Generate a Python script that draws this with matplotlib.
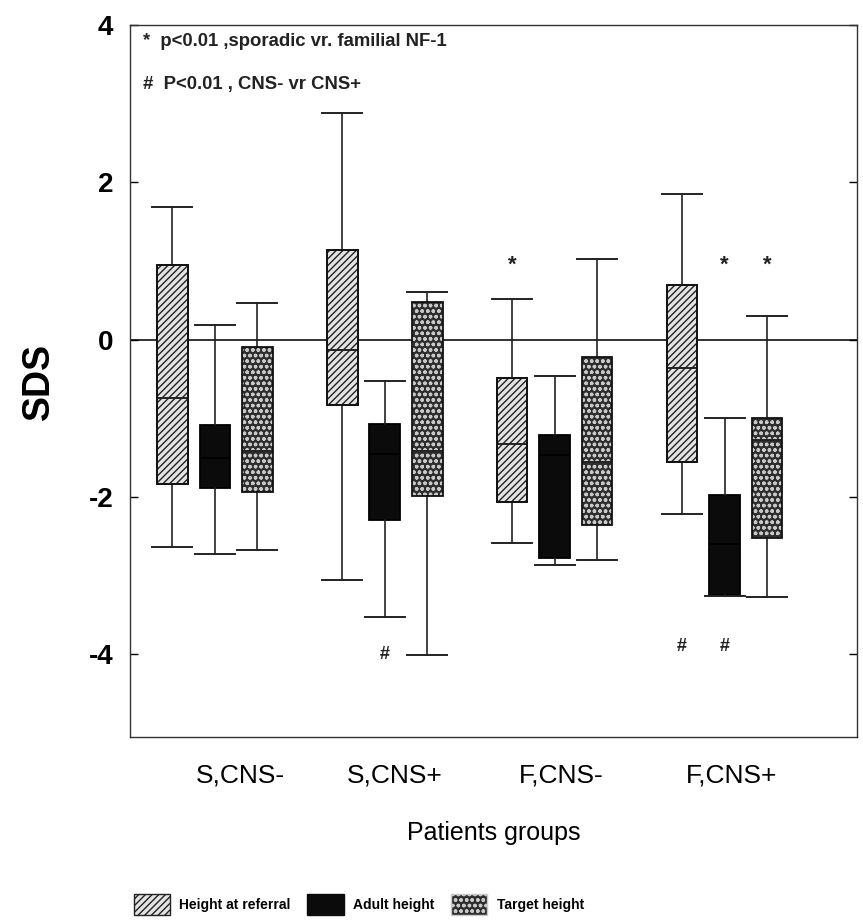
import matplotlib
matplotlib.use("Agg")
import matplotlib.pyplot as plt
from matplotlib.patches import PathPatch, Patch

plt.rcParams['font.family'] = ['Liberation Sans', 'DejaVu Sans']

# groups and series
groups = ['S,CNS-', 'S,CNS+', 'F,CNS-', 'F,CNS+']
series = ['Height at referral', 'Adult height', 'Target height']

# box statistics (SDS), one list per series, one value per group
ref_lo = [-2.63, -3.05, -2.59, -2.22]
ref_q1 = [-1.84, -0.83, -2.06, -1.55]
ref_med = [-0.74, -0.13, -1.33, -0.36]
ref_q3 = [0.95, 1.14, -0.49, 0.70]
ref_hi = [1.68, 2.88, 0.52, 1.85]

adult_lo = [-2.73, -3.52, -2.86, -3.26]
adult_q1 = [-1.88, -2.29, -2.77, -3.24]
adult_med = [-1.50, -1.45, -1.46, -2.60]
adult_q3 = [-1.08, -1.07, -1.21, -1.98]
adult_hi = [0.19, -0.52, -0.46, -0.99]

target_lo = [-2.67, -4.01, -2.80, -3.27]
target_q1 = [-1.93, -1.99, -2.35, -2.52]
target_med = [-1.42, -1.42, -1.56, -1.27]
target_q3 = [-0.09, 0.48, -0.22, -0.99]
target_hi = [0.46, 0.60, 1.02, 0.30]

# significance marks: (group index, series index, y)
star_marks = [(2, 0, 0.95), (3, 1, 0.95), (3, 2, 0.95)]
hash_marks = [(1, 1, -4.0), (3, 0, -3.9), (3, 1, -3.9)]

offsets = [-0.25, 0.0, 0.25]
face = ['#e4e4e4', '#0b0b0b', '#2e2e2e']
# group labels sit a bit right of the box centres in the original
label_shift = [0.15, 0.06, 0.04, 0.04]

fig = plt.figure(figsize=(8.63, 9.24), dpi=100)
ax = fig.add_axes([0.1506, 0.2024, 0.8425, 0.7706])

all_stats = [
    (ref_lo, ref_q1, ref_med, ref_q3, ref_hi),
    (adult_lo, adult_q1, adult_med, adult_q3, adult_hi),
    (target_lo, target_q1, target_med, target_q3, target_hi),
]

boxes_by_series = []
for s, (lo, q1, med, q3, hi) in enumerate(all_stats):
    stats = []
    for g in range(len(groups)):
        stats.append(dict(whislo=lo[g], q1=q1[g], med=med[g], q3=q3[g],
                          whishi=hi[g], fliers=[]))
    pos = [g + 1 + offsets[s] for g in range(len(groups))]
    medc = '#000000' if s == 1 else '#222222'
    res = ax.bxp(stats, positions=pos, widths=0.18, capwidths=0.235,
                 patch_artist=True, showfliers=False, manage_ticks=False,
                 boxprops=dict(linewidth=1.3, edgecolor='black'),
                 whiskerprops=dict(linewidth=1.2, color='#222222'),
                 capprops=dict(linewidth=1.4, color='#222222'),
                 medianprops=dict(linewidth=1.4, color=medc))
    boxes_by_series.append(res['boxes'])

for b in boxes_by_series[0]:
    b.set_facecolor(face[0])
    b.set_hatch('/////')
    b.set_edgecolor('#222222')
for b in boxes_by_series[1]:
    b.set_facecolor(face[1])
for b in boxes_by_series[2]:
    b.set_facecolor(face[2])
    b.set_edgecolor('#c8c8c8')
    b.set_hatch('ooo')
    b.set_linewidth(0)
for b in boxes_by_series[0] + boxes_by_series[2]:
    ax.add_patch(PathPatch(b.get_path(), transform=b.get_transform(),
                           fill=False, edgecolor='#111111', linewidth=1.3,
                           zorder=b.get_zorder() + 0.1))

ax.axhline(0, color='#222222', linewidth=1.3, zorder=1)

for g, s, y in star_marks:
    ax.text(g + 1 + offsets[s], y, '*', ha='center', va='center',
            fontsize=16, fontweight='bold', color='#222222')
for g, s, y in hash_marks:
    ax.text(g + 1 + offsets[s], y, '#', ha='center', va='center',
            fontsize=13, fontweight='bold', color='#222222')

ax.text(0.018, 0.977, '*  p<0.01 ,sporadic vr. familial NF-1',
        transform=ax.transAxes, fontsize=13.3, fontweight='bold',
        color='#222222', va='center')
ax.text(0.018, 0.916, '#  P<0.01 , CNS- vr CNS+',
        transform=ax.transAxes, fontsize=13.3, fontweight='bold',
        color='#222222', va='center')

ax.set_xlim(0.5, 4.78)
ax.set_ylim(-5.05, 4.0)
ax.set_yticks([-4, -2, 0, 2, 4])
ax.set_yticklabels(['-4', '-2', '0', '2', '4'], fontsize=20, fontweight='bold')
ax.set_xticks([g + 1 + d for g, d in enumerate(label_shift)])
ax.set_xticklabels(groups, fontsize=19)
ax.tick_params(axis='x', length=0, pad=19)
ax.tick_params(axis='y', direction='in', length=6, width=1, pad=12,
               right=True)
for sp in ax.spines.values():
    sp.set_linewidth(1.0)
    sp.set_color('#333333')

ax.set_ylabel('SDS', fontsize=27, fontweight='bold', labelpad=23)
ax.set_xlabel('Patients groups', fontsize=18, labelpad=24)

handles = [
    Patch(facecolor=face[0], edgecolor='#222222', hatch='/////'),
    Patch(facecolor=face[1], edgecolor=face[1]),
    Patch(facecolor=face[2], edgecolor='#c8c8c8', hatch='ooo'),
]
fig.legend(handles, series, loc='center', ncol=3, frameon=False,
           bbox_to_anchor=(0.416, 0.021), handlelength=2.6,
           handleheight=2.0, columnspacing=1.2, handletextpad=0.7,
           prop=dict(size=10, weight='bold'))

fig.savefig('out.png', dpi=100)
